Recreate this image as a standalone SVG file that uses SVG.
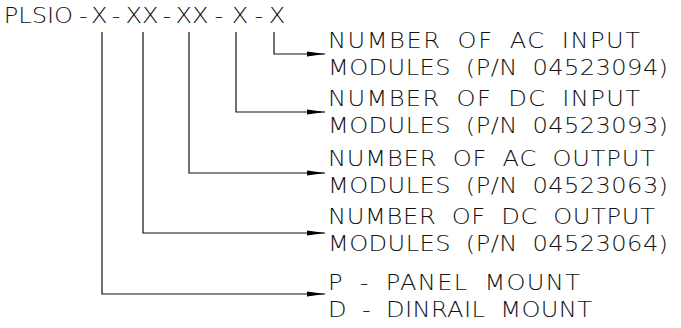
<svg xmlns="http://www.w3.org/2000/svg" width="681" height="328" viewBox="0 0 681 328">
<style>
text{font-family:"DejaVu Sans","Liberation Sans",sans-serif;font-weight:200;font-size:21px;fill:#111}
.lbl{word-spacing:6px}
.ln{fill:none;stroke:#111;stroke-width:1.2}
</style>
<defs>
<marker id="ah" markerUnits="userSpaceOnUse" markerWidth="20" markerHeight="8" refX="18" refY="3" orient="auto">
<path d="M0,0.5 L18,3 L0,5.5 Z" fill="#000"/>
</marker>
</defs>
<rect width="681" height="328" fill="#fff"/>
<g id="part-number" transform="scale(1.15 1)">
<text y="23"><tspan x="3.2">PLSIO</tspan><tspan x="72.4" text-anchor="middle">-</tspan><tspan x="86.3" text-anchor="middle">X</tspan><tspan x="100.9" text-anchor="middle">-</tspan><tspan x="123.5" text-anchor="middle">XX</tspan><tspan x="145.2" text-anchor="middle">-</tspan><tspan x="167" text-anchor="middle">XX</tspan><tspan x="190.4" text-anchor="middle">-</tspan><tspan x="208.7" text-anchor="middle">X</tspan><tspan x="225.2" text-anchor="middle">-</tspan><tspan x="240.9" text-anchor="middle">X</tspan></text>
</g>
<g id="connectors">
<path class="ln" d="M274,32 V54 H325" marker-end="url(#ah)"/>
<path class="ln" d="M236,32 V112 H325" marker-end="url(#ah)"/>
<path class="ln" d="M189,32 V173 H325" marker-end="url(#ah)"/>
<path class="ln" d="M143,32 V233 H325" marker-end="url(#ah)"/>
<path class="ln" d="M102,32 V294 H325" marker-end="url(#ah)"/>
</g>
<g id="ac-input" transform="matrix(1.15 0 0 1 -49.2 0)">
<text class="lbl" x="328" y="48" textLength="271.3" lengthAdjust="spacing">NUMBER OF AC INPUT</text>
<text class="lbl" x="328" y="75" textLength="295.7" lengthAdjust="spacing">MODULES (P/N 04523094)</text>
</g>
<g id="dc-input" transform="matrix(1.15 0 0 1 -49.2 0)">
<text class="lbl" x="328" y="106" textLength="271.3" lengthAdjust="spacing">NUMBER OF DC INPUT</text>
<text class="lbl" x="328" y="133" textLength="295.7" lengthAdjust="spacing">MODULES (P/N 04523093)</text>
</g>
<g id="ac-output" transform="matrix(1.15 0 0 1 -49.2 0)">
<text class="lbl" x="328" y="166" textLength="284.3" lengthAdjust="spacing">NUMBER OF AC OUTPUT</text>
<text class="lbl" x="328" y="193" textLength="295.7" lengthAdjust="spacing">MODULES (P/N 04523063)</text>
</g>
<g id="dc-output" transform="matrix(1.15 0 0 1 -49.2 0)">
<text class="lbl" x="328" y="224.5" textLength="284.3" lengthAdjust="spacing">NUMBER OF DC OUTPUT</text>
<text class="lbl" x="328" y="251.5" textLength="295.7" lengthAdjust="spacing">MODULES (P/N 04523064)</text>
</g>
<g id="mount" transform="matrix(1.15 0 0 1 -49.2 0)">
<text class="lbl" x="328" y="290" textLength="219.1" lengthAdjust="spacing">P - PANEL MOUNT</text>
<text class="lbl" x="328" y="317" textLength="229.6" lengthAdjust="spacing">D - DINRAIL MOUNT</text>
</g>
</svg>
